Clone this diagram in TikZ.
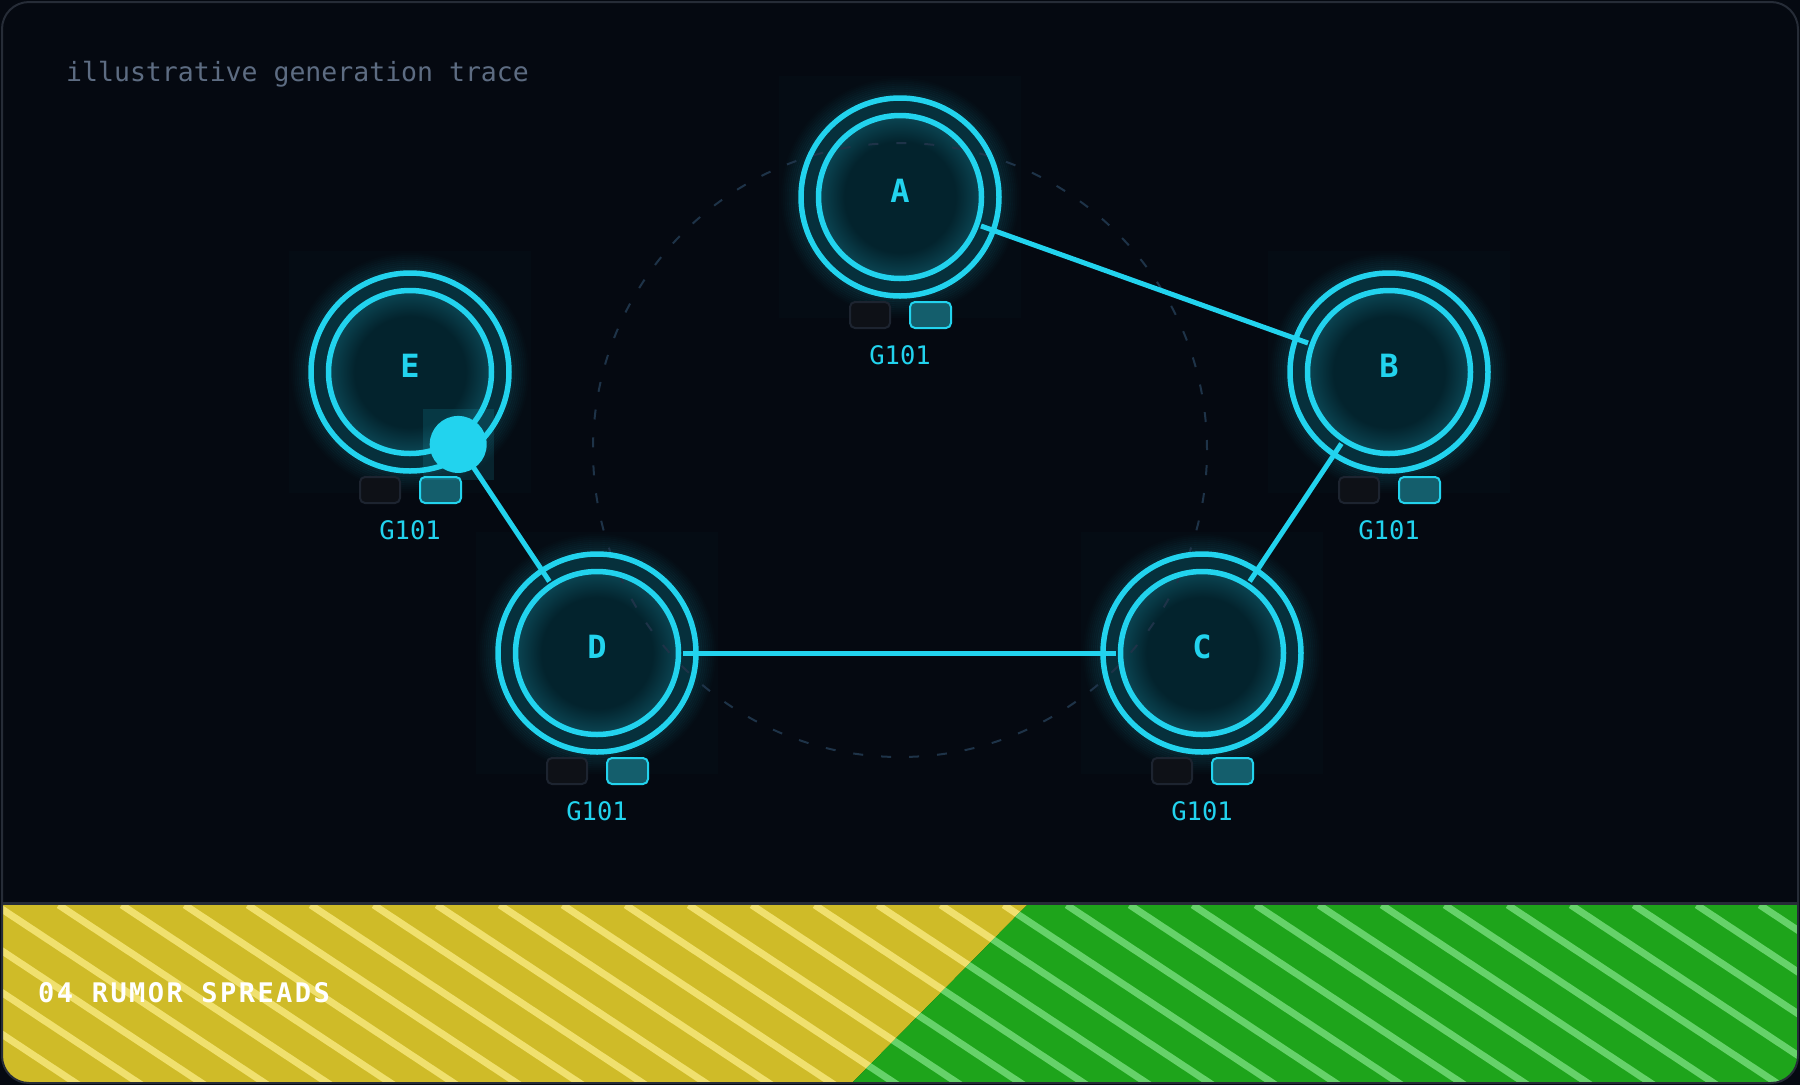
\documentclass[tikz,border=0pt]{standalone}
\usepackage{fontspec}
\setmonofont{DejaVu Sans Mono}
\newfontfamily\bandfont[LetterSpace=9]{DejaVu Sans Mono Bold}
\usetikzlibrary{calc}
\definecolor{bg}{HTML}{050911}
\definecolor{framec}{HTML}{262C37}
\definecolor{cy}{HTML}{22D3EE}
\definecolor{nfA}{HTML}{03232D}
\definecolor{nfB}{HTML}{0B4654}
\definecolor{annul}{HTML}{06303C}
\definecolor{dashc}{HTML}{1E3348}
\definecolor{boxdark}{HTML}{0E1117}
\definecolor{boxdarkline}{HTML}{1D2430}
\definecolor{boxteal}{HTML}{145E6C}
\definecolor{graytxt}{HTML}{5D6C82}
\definecolor{yel}{HTML}{CFBB28}
\definecolor{yelS}{HTML}{F0E06E}
\definecolor{grn}{HTML}{1EA41B}
\definecolor{grnS}{HTML}{66D26A}
\pgfdeclareradialshading{innerglow}{\pgfpoint{0bp}{0bp}}{color(0bp)=(nfA); color(17bp)=(nfA); color(25bp)=(nfB); color(50bp)=(nfB)}
\tikzset{
  anchorpt/.style={circle, minimum size=172pt, inner sep=0pt, outer sep=0pt},
  ringline/.style={draw=cy, line width=5.5pt},
  edgeline/.style={draw=cy, line width=5pt},
  nodeletter/.style={text=cy, inner sep=0pt, font=\ttfamily\bfseries\fontsize{32}{32}\selectfont},
  genlabel/.style={text=cy, inner sep=0pt, font=\ttfamily\fontsize{25.5}{25.5}\selectfont},
  darkbox/.style={draw=boxdarkline, fill=boxdark, line width=2pt, rounded corners=5pt},
  tealbox/.style={draw=cy, fill=boxteal, line width=2pt, rounded corners=5pt},
  stripeY/.style={draw=yelS, line width=7pt},
  stripeG/.style={draw=grnS, line width=7pt},
  guide/.style={draw=dashc, line width=2pt, dash pattern=on 10pt off 18pt},
}
\begin{document}
\begin{tikzpicture}[x=1pt, y=-1pt]
\useasboundingbox (0,0) rectangle (1800,1085);
\fill[bg] (0,0) rectangle (1800,1085);

% bottom band
\begin{scope}
  \clip[rounded corners=27pt] (2,2) rectangle (1798,1083);
  \begin{scope}
    \clip (0,905) -- (1027,905) -- (850,1085) -- (0,1085) -- cycle;
    \fill[yel] (0,905) rectangle (1800,1085);
    \foreach \k in {-6,...,30} {
      \draw[stripeY] (58.7+\k*63, 905) -- ++(420, 278);
    }
  \end{scope}
  \begin{scope}
    \clip (1027,905) -- (1800,905) -- (1800,1085) -- (850,1085) -- cycle;
    \fill[grn] (0,905) rectangle (1800,1085);
    \foreach \k in {-6,...,30} {
      \draw[stripeG] (58.7+\k*63, 905) -- ++(420, 278);
    }
  \end{scope}
\end{scope}
\draw[framec, line width=2.5pt] (2,903.5) -- (1798,903.5);
\draw[framec, line width=2pt, rounded corners=27pt] (2,2) rectangle (1798,1083);

% texts
\node[anchor=base west, inner sep=0pt, text=graytxt, font=\ttfamily\fontsize{26.5}{26.5}\selectfont] (title) at (66,81.5) {illustrative generation trace};
\node[anchor=base west, inner sep=0pt, text=white, font=\bandfont\fontsize{27}{27}\selectfont] (stage) at (38,1002) {04 RUMOR SPREADS};

% node anchors
\foreach \n/\x/\y in {A/900/197, B/1389/372, C/1202/653, D/597/653, E/410/372} {
  \node[anchorpt] (\n) at (\x,\y) {};
}

% glow, outer fill, inner fill
\foreach \n in {A,B,C,D,E} {
  \fill[cy, opacity=0.015] ($(\n)+(-121,-121)$) rectangle ($(\n)+(121,121)$);
  \foreach \i in {1,...,9} {
    \pgfmathsetmacro{\gr}{100+\i*2}
    \pgfmathsetmacro{\go}{0.13*(1-\i/10)}
    \draw[cy, opacity=\go, line width=2.2pt] (\n) circle (\gr pt);
  }
  \fill[annul] (\n) circle (99pt);
  \shade[shading=innerglow] (\n) circle (81.5pt);
}

% dashed guide circle
\draw[guide] (900,450) circle (307pt);

% edges
\draw[edgeline] (A) -- (B);
\draw[edgeline] (B) -- (C);
\draw[edgeline] (C) -- (D);
\draw[edgeline] (D) -- (E);

% node rings and labels
\foreach \n in {A,B,C,D,E} {
  \draw[ringline] (\n) circle (99pt);
  \draw[ringline] (\n) circle (81.5pt);
  \node[nodeletter] at ($(\n)+(0,-6)$) {\n};
  \draw[darkbox] ($(\n)+(-50,105)$) rectangle ($(\n)+(-10,131)$);
  \draw[tealbox] ($(\n)+(10,105)$) rectangle ($(\n)+(51,131)$);
  \node[genlabel] at ($(\n)+(0,158)$) {G101};
}

% moving token
\coordinate (pulsept) at ($(E)!87pt!(D)$);
\fill[cy, opacity=0.12] ($(pulsept)+(-35.5,-35.5)$) rectangle ($(pulsept)+(35.5,35.5)$);
\node[circle, fill=cy, minimum size=57pt, inner sep=0pt] (pulse) at (pulsept) {};
\end{tikzpicture}
\end{document}
